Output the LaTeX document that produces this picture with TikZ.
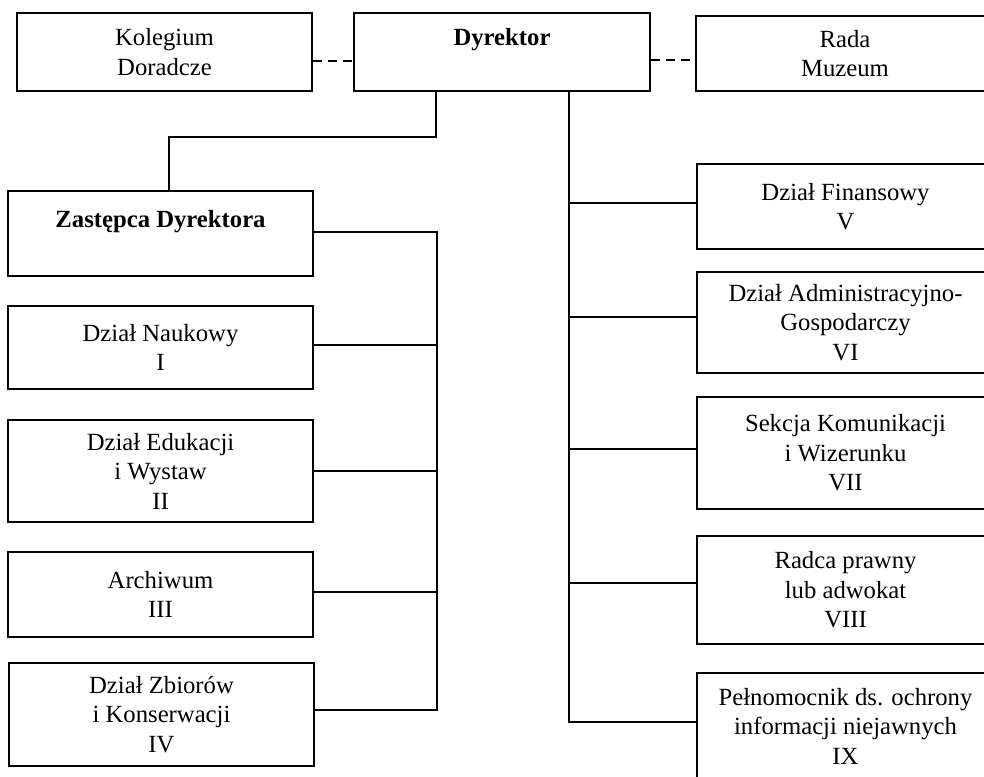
\documentclass[tikz,border=0pt]{standalone}
\usepackage{fontspec}
\setmainfont{Liberation Serif}
\begin{document}
\begin{tikzpicture}[x=1pt,y=-1pt,
  box/.style={draw, line width=2pt, inner sep=0pt, align=center,
    font=\fontsize{24.7}{29.5}\selectfont},
  conn/.style={line width=2pt},
  dline/.style={line width=2.6pt, dash pattern=on 9pt off 6pt}]
\useasboundingbox (0,0) rectangle (984,776);
\clip (0,0) rectangle (984,776);
\fill[white] (0,0) rectangle (984,776);
% top row
\node[box, minimum width=295, minimum height=78] (kol) at (164.5,52) {Kolegium\\Doradcze};
\node[box, minimum width=296, minimum height=78] (dyr) at (502,52) {\textbf{Dyrektor}\\\mbox{}};
\node[box, minimum width=298, minimum height=75] (rada) at (845,53.5) {Rada\\Muzeum};
% left column
\node[box, minimum width=305, minimum height=85] (zast) at (160.5,233.5) {\textbf{Zastępca Dyrektora}\\\mbox{}};
\node[box, minimum width=305, minimum height=83] (nauk) at (160.5,347.5) {Dział Naukowy\\I};
\node[box, minimum width=305, minimum height=102] (edu) at (160.5,471) {Dział Edukacji\\i Wystaw\\II};
\node[box, minimum width=305, minimum height=85] (arch) at (160.5,594.5) {Archiwum\\III};
\node[box, minimum width=305, minimum height=103] (zbi) at (161.5,714.5) {Dział Zbiorów\\i Konserwacji\\IV};
% right column
\node[box, minimum width=297, minimum height=85] (fin) at (845.5,206.5) {Dział Finansowy\\V};
\node[box, minimum width=297, minimum height=101] (adm) at (845.5,322.5) {Dział Administracyjno-\\Gospodarczy\\VI};
\node[box, minimum width=297, minimum height=112] (sek) at (845.5,453) {Sekcja Komunikacji\\i Wizerunku\\VII};
\node[box, minimum width=297, minimum height=108] (rad) at (845.5,590) {Radca prawny\\lub adwokat\\VIII};
\node[box, minimum width=297, minimum height=106] (pel) at (845.5,726) {Pełnomocnik ds. ochrony\\informacji niejawnych\\IX};
% dashed links
\draw[dline] ([yshift=-9pt]kol.east) -- ([yshift=-9pt]kol.east -| dyr.west);
\draw[dline] ([yshift=-8pt]dyr.east) -- ([yshift=-8pt]dyr.east -| rada.west);
% director to deputy
\coordinate (d1) at (436,137);
\draw[conn] (dyr.south -| d1) -- (d1) -| ([xshift=8.5pt]zast.north);
% left trunk
\coordinate (lt) at (437,0);
\draw[conn] ([yshift=1.5pt]zast.east) -- ([yshift=1.5pt]zast.east -| lt) -- ([yshift=4.5pt]zbi.east -| lt) -- ([yshift=4.5pt]zbi.east);
\draw[conn] ([yshift=2.5pt]nauk.east) -- ([yshift=2.5pt]nauk.east -| lt);
\draw[conn] (edu.east) -- (edu.east -| lt);
\draw[conn] ([yshift=2.5pt]arch.east) -- ([yshift=2.5pt]arch.east -| lt);
% right trunk
\coordinate (rt) at (569,0);
\draw[conn] (dyr.south -| rt) -- ([yshift=4pt]pel.west -| rt) -- ([yshift=4pt]pel.west);
\draw[conn] ([yshift=3.5pt]fin.west) -- ([yshift=3.5pt]fin.west -| rt);
\draw[conn] ([yshift=5.5pt]adm.west) -- ([yshift=5.5pt]adm.west -| rt);
\draw[conn] ([yshift=4pt]sek.west) -- ([yshift=4pt]sek.west -| rt);
\draw[conn] ([yshift=7pt]rad.west) -- ([yshift=7pt]rad.west -| rt);
\end{tikzpicture}
\end{document}
